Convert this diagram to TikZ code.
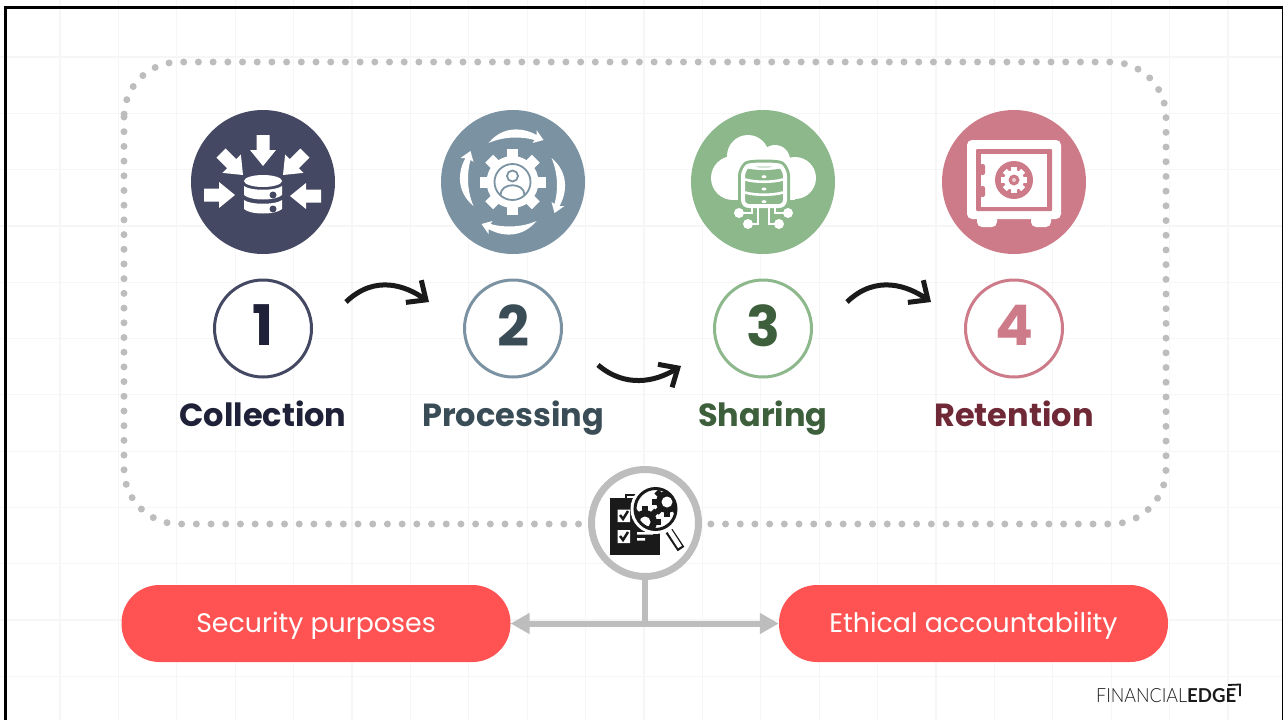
\documentclass[tikz,border=0pt]{standalone}
\usepackage{fontspec}
\usetikzlibrary{arrows.meta}
\setmainfont{Poppins}
\newfontfamily\logofont{Lato Light}
\newfontfamily\logoboldfont{Lato}[UprightFont=*-Bold]

\definecolor{gridgray}{HTML}{F6F6F6}
\definecolor{dotgray}{HTML}{BDBDBD}
\definecolor{collectcol}{HTML}{454862}
\definecolor{processcol}{HTML}{7A92A2}
\definecolor{sharecol}{HTML}{8CB88C}
\definecolor{retaincol}{HTML}{CD7B88}
\definecolor{collecttext}{HTML}{1F2138}
\definecolor{processtext}{HTML}{3A4D57}
\definecolor{sharetext}{HTML}{3D5F3B}
\definecolor{retaintext}{HTML}{6F2835}
\definecolor{pillred}{HTML}{FF5252}
\definecolor{inkblack}{HTML}{1A1A1A}

\tikzset{
  iconcircle/.style={circle, minimum size=144pt, inner sep=0pt, fill=#1},
  numcircle/.style={circle, minimum size=97pt, inner sep=0pt, draw=#1, line width=3pt, fill=white,
    text depth=6pt, font=\bfseries\fontsize{56}{56}\selectfont},
  steplabel/.style={anchor=base, font=\bfseries\fontsize{32}{32}\selectfont},
  pill/.style={rectangle, rounded corners=38pt, minimum width=389pt, minimum height=77pt, inner sep=0pt,
    fill=pillred, text=white, text height=23pt, text depth=5pt, font=\fontsize{26.8}{26.8}\selectfont},
  curvearrow/.style={draw=inkblack, line width=5pt, -{Straight Barb[length=15pt,width=27pt,line width=5pt]}},
  grayline/.style={draw=dotgray, line width=6pt},
  inarrow/.pic={\fill[white] (-31,-6.5) -- (-16,-6.5) -- (-16,-13) -- (0,0) -- (-16,13) -- (-16,6.5) -- (-31,6.5) -- cycle;},
  crescent/.pic={\fill[white] (-24,-39) .. controls (-10,-56) and (10,-55) .. (24,-47) -- (24,-52) -- (31,-42) -- (20,-39) -- (22,-42) .. controls (10,-45.5) and (-8,-46) .. (-24,-39) -- cycle;},
}

\begin{document}
\begin{tikzpicture}[x=1pt, y=-1pt]
    \useasboundingbox (0,0) rectangle (1283,720);

    % Background grid
    \foreach \i in {0,...,21} \draw[gridgray, line width=1.2pt] ({60+58.4*\i},0) -- ({60+58.4*\i},720);
    \foreach \i in {0,...,11} \draw[gridgray, line width=1.2pt] (0,{57+56.3*\i}) -- (1283,{57+56.3*\i});

    % Frame
    \draw[black, line width=3pt] (5.5,720) -- (5.5,7.5) -- (1283,7.5);
    \draw[black, line width=1.5pt] (1282.3,7.5) -- (1282.3,720);

    % Dotted box
    \draw[dotgray, line width=7pt, line cap=round, dash pattern=on 0pt off 14.7pt, rounded corners=55pt]
        (124,62) rectangle (1166,524);

    % Icon circles
    \node[iconcircle=collectcol] (icon1) at (263,182) {};
    \node[iconcircle=processcol] (icon2) at (513,182) {};
    \node[iconcircle=sharecol] (icon3) at (763,182) {};
    \node[iconcircle=retaincol] (icon4) at (1014,182) {};

    % Numbers
    \node[numcircle=collectcol, text=collecttext] (num1) at (263,328.5) {1};
    \node[numcircle=processcol, text=processtext] (num2) at (513,328.5) {2};
    \node[numcircle=sharecol, text=sharetext] (num3) at (763,328.5) {3};
    \node[numcircle=retaincol, text=retaincol] (num4) at (1014,328.5) {4};

    % Labels
    \node[steplabel, text=collecttext] (label1) at (263,426) {Collection};
    \node[steplabel, text=processtext] (label2) at (513,426) {Processing};
    \node[steplabel, text=sharetext] (label3) at (763,426) {Sharing};
    \node[steplabel, text=retaintext] (label4) at (1014,426) {Retention};

    % Curved arrows
    \coordinate (a1s) at (346,302); \coordinate (a1e) at (429,302);
    \coordinate (a2s) at (598,365); \coordinate (a2e) at (681,366);
    \coordinate (a3s) at (847,302); \coordinate (a3e) at (931,302);
    \draw[curvearrow] (a1s) .. controls (375,274) and (406,286) .. (a1e);
    \draw[curvearrow] (a2s) .. controls (625,388) and (655,382) .. (a2e);
    \draw[curvearrow] (a3s) .. controls (876,274) and (908,286) .. (a3e);

    % Collection icon
    \path (263,166) pic[rotate=-90] {inarrow};
    \path (235,195) pic {inarrow};
    \path (290,196) pic[rotate=180] {inarrow};
    \path (243,175) pic[rotate=-45] {inarrow};
    \path (283,175) pic[rotate=-135] {inarrow};
    \fill[white] (263,181) ellipse (19 and 6);
    \foreach \y in {186,200}
      \fill[white] (244,\y) .. controls (250,\y+5) and (276,\y+5) .. (282,\y) -- (282,\y+9) .. controls (276,\y+15) and (250,\y+15) .. (244,\y+9) -- cycle;
    \fill[collectcol] (273,195) circle (3.5) (273,209) circle (3.5);

    % Processing icon
    \begin{scope}[shift={(512.5,182)}]
      \foreach \a in {0,45,...,315}
        \fill[white, rotate=\a] (-5.5,-33) rectangle (5.5,-20);
      \fill[white] (0,0) circle (26);
      \draw[processcol, line width=1.8pt] (0,0) circle (18);
      \draw[processcol, line width=1.8pt] (0,-6) circle (5.5);
      \draw[processcol, line width=1.8pt] (-12,13) .. controls (-12,0) and (12,0) .. (12,13);
      \foreach \a in {0,-90,-180,-270}
        \path (0,0) pic[rotate=\a] {crescent};
    \end{scope}

    % Sharing icon
    \fill[white] (733,178) circle (22) (748,156) circle (21) (775,160) circle (15) (795,178) circle (21);
    \fill[white] (733,165) rectangle (795,200);
    \draw[sharecol, fill=sharecol, line width=10pt, rounded corners=6pt] (743,170) .. controls (750,164) and (778,164) .. (785,170) -- (785,206) -- (743,206) -- cycle;
    \draw[white, fill=sharecol, line width=4pt, rounded corners=6pt] (743,170) .. controls (750,164) and (778,164) .. (785,170) -- (785,206) -- (743,206) -- cycle;
    \foreach \y in {166.5,179.5,192.5}
      \draw[white, line width=2.6pt] (745,\y) .. controls (755,\y+3) and (773,\y+3) .. (783,\y);
    \fill[white] (764,176.7) ellipse (2.5 and 1.5) (764,189) ellipse (2.5 and 1.5) (764,201.7) ellipse (2.5 and 1.5);
    \fill[white] (739,213) circle (5) (748,224) circle (5) (779,224) circle (5) (788,213) circle (5);
    \draw[white, line width=1.6pt] (752,208) -- (752,213) -- (739,213) (758,208) -- (758,224) -- (748,224)
        (769,208) -- (769,224) -- (779,224) (775,208) -- (775,213) -- (788,213);

    % Retention icon
    \fill[white, rounded corners=5pt] (977,212) rectangle (997,227) (1031,212) rectangle (1051,227);
    \fill[white, rounded corners=5pt] (967,140) rectangle (1061,219);
    \fill[retaincol, rounded corners=1pt] (976,149) rectangle (1052,211);
    \fill[white] (981,154) rectangle (1047,207);
    \fill[retaincol, rounded corners=2pt] (980,164) rectangle (985,175) (980,186) rectangle (985,197);
    \fill[retaincol] (1014,180) circle (19);
    \foreach \a in {0,45,...,315}
      \fill[white, rotate around={\a:(1014,180)}] (1011.2,167) rectangle (1016.8,173);
    \fill[white] (1014,180) circle (10);
    \fill[retaincol] (1014,180) circle (5.5);
    \fill[white!65!retaincol] (1014,180) circle (2);

    % Connector from the check icon to the pills
    \node[pill] (security) at (316,623.5) {Security purposes};
    \node[pill] (ethical) at (973.5,623.5) {Ethical accountability};
    \node[circle, minimum size=107pt, inner sep=0pt, draw=dotgray, line width=7pt, fill=white] (check) at (645,523) {};
    \coordinate (junction) at (check.south |- security.east);
    \draw[grayline] (check.south) -- (junction);
    \draw[grayline, -{Triangle[length=19pt,width=20pt]}] (junction) -- (security.east);
    \draw[grayline, -{Triangle[length=19pt,width=20pt]}] (junction) -- (ethical.west);

    % Check icon
    \fill[inkblack] (610,498) rectangle (660,555);
    \draw[inkblack, line width=1.5pt] (626,498) -- (626,495) -- (637,495);
    \fill[white] (617.5,509.5) rectangle (630,522) (617.5,530) rectangle (630,543);
    \draw[inkblack, line width=2.5pt] (620,515) -- (623,519) -- (628,511) (620,536) -- (623,540) -- (628,532);
    \fill[white] (637,532) rectangle (653,534.5) (637,538) rectangle (645,540.5);
    \draw[inkblack, line width=8pt] (669,531) -- (681,549);
    \draw[white, line width=4.5pt] (669,530) -- (680,547);
    \fill[white] (655.5,509) circle (25);
    \begin{scope}
      \clip (655.5,509) circle (21);
      \foreach \a in {0,45,...,315} {
        \fill[inkblack, rotate around={\a:(667,502)}] (664,487) rectangle (670,492);
        \fill[inkblack, rotate around={\a:(645,522)}] (642,506) rectangle (648,511);
      }
      \fill[inkblack] (667,502) circle (11) (645,522) circle (12);
      \fill[white] (667,502) circle (5.5) (645,522) circle (5.5);
    \end{scope}
    \draw[inkblack, line width=3pt] (655.5,509) circle (20.5);

    % Logo
    \node[inner sep=0pt, anchor=west, text=inkblack] (logo1) at (1096,696) {\resizebox{91pt}{14pt}{\logofont FINANCIAL}};
    \node[inner sep=0pt, anchor=west, text=inkblack] (logo2) at (1187,696) {\resizebox{49pt}{14pt}{\logoboldfont EDGE}};
    \coordinate (logotr) at (1240,684.5);
    \draw[inkblack, line width=1.8pt] (1228,685) -- (logotr) -- (1240,696);
\end{tikzpicture}
\end{document}
